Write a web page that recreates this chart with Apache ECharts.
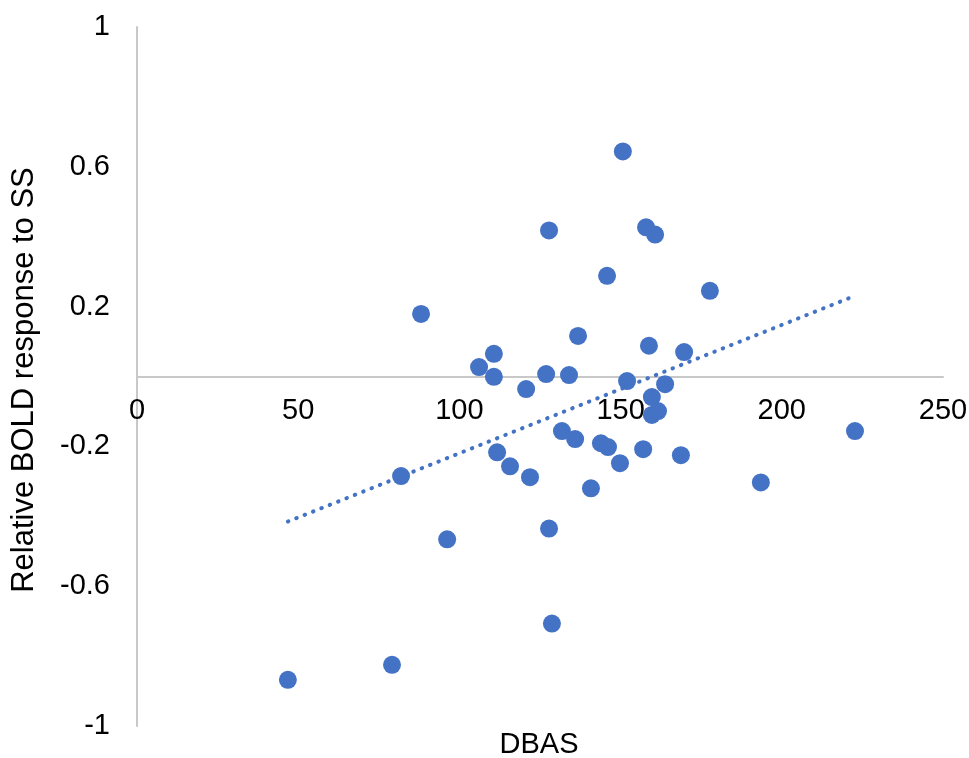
<!DOCTYPE html>
<html><head><meta charset="utf-8">
<script src="https://cdn.jsdelivr.net/npm/echarts@6/dist/echarts.min.js"></script>
<style>html,body{margin:0;padding:0;background:#fff}#c{width:969px;height:758px}</style>
</head><body><div id="c"></div>
<script>
const dbas = [46.8, 79.1, 81.9, 88.1, 96.2, 106.1, 110.7, 110.7, 111.7, 115.7, 120.7, 121.9, 126.9, 127.8, 127.8, 128.7, 131.8, 134.0, 135.9, 136.8, 140.8, 143.9, 145.8, 146.1, 149.8, 150.7, 152.0, 157.0, 157.9, 158.8, 159.7, 159.7, 160.7, 161.6, 163.8, 168.7, 169.7, 177.7, 193.5, 222.7];
const bold = [-0.868, -0.825, -0.285, 0.179, -0.466, 0.027, 0.065, -0.001, -0.217, -0.257, -0.036, -0.288, 0.007, 0.418, -0.435, -0.707, -0.156, 0.004, -0.179, 0.116, -0.320, -0.191, 0.288, -0.202, -0.248, 0.644, -0.013, -0.208, 0.427, 0.088, -0.059, -0.110, 0.406, -0.099, -0.022, -0.225, 0.070, 0.245, -0.303, -0.156];
const trendX = [46.8, 223.0];
const trendY = [-0.415, 0.232];
const xTickLabels = ['0', '50', '100', '150', '200', '250'];
const yTickLabels = ['-1', '-0.6', '-0.2', '0.2', '0.6', '1'];
const xTitle = 'DBAS';
const yTitle = 'Relative BOLD response to SS';

const FONT = '"Liberation Sans", Arial, sans-serif';
const W = 969, H = 758;
const gTop = 27, gBottom = 32;
const gridH = H - gTop - gBottom;
const chart = echarts.init(document.getElementById('c'));
const yVals = yTickLabels.map(Number);
chart.setOption({
  animation: false,
  backgroundColor: '#fff',
  grid: { left: 137, right: 26, top: gTop, bottom: gBottom, containLabel: false, outerBoundsMode: 'none' },
  xAxis: {
    type: 'value', min: 0, max: 250, interval: 50, position: 'bottom',
    offset: -gridH / 2,
    axisLine: { onZero: false, lineStyle: { color: '#C8C8C8', width: 2 } },
    axisTick: { show: false },
    splitLine: { show: false },
    axisLabel: { fontSize: 29, color: '#000', margin: 20, fontFamily: FONT,
      showMinLabel: true, showMaxLabel: true,
      formatter: v => { const i = xTickLabels.indexOf(String(Math.round(v))); return i >= 0 ? xTickLabels[i] : ''; } }
  },
  yAxis: {
    type: 'value', min: -1, max: 1, interval: 0.4,
    axisLine: { show: true, onZero: false, lineStyle: { color: '#C8C8C8', width: 2 } },
    axisTick: { show: false },
    splitLine: { show: false },
    axisLabel: { fontSize: 29, color: '#000', margin: 27, fontFamily: FONT,
      showMinLabel: true, showMaxLabel: true,
      formatter: v => { let best = 0; yVals.forEach((t, i) => { if (Math.abs(t - v) < Math.abs(yVals[best] - v)) best = i; }); return yTickLabels[best]; } }
  },
  graphic: [
    { type: 'text', x: 539, y: 745, style: { text: xTitle, font: '29px ' + FONT, fill: '#000', align: 'center', verticalAlign: 'middle' } },
    { type: 'text', rotation: Math.PI / 2, x: 24, y: 380, style: { text: yTitle, font: '31px ' + FONT, fill: '#000', align: 'center', verticalAlign: 'middle' } }
  ],
  series: [
    { type: 'scatter', symbol: 'circle', symbolSize: 18, itemStyle: { color: '#4472C4', opacity: 1 },
      data: dbas.map((x, i) => [x, bold[i]]), z: 2 },
    { type: 'line', showSymbol: false, symbol: 'none', silent: true, z: 3,
      lineStyle: { color: '#4472C4', width: 4, type: [0.5, 8.5], cap: 'round' },
      data: trendX.map((x, i) => [x, trendY[i]]) }
  ]
});
</script>
</body></html>
